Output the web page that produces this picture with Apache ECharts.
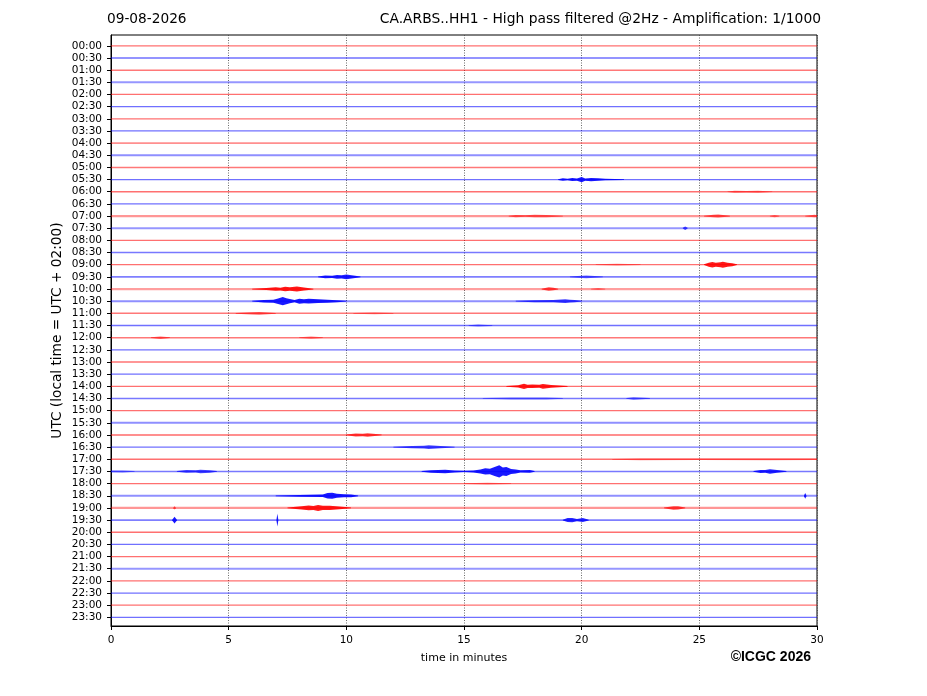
<!DOCTYPE html>
<html>
<head>
<meta charset="utf-8">
<script src="https://cdn.jsdelivr.net/npm/echarts@6/dist/echarts.min.js"></script>
<style>html,body{margin:0;padding:0;background:#fff}#c{width:927px;height:696px}</style>
</head>
<body>
<div id="c"></div>
<script>
// ---- data ----
const dateLabel = '09-08-2026';
const titleText = 'CA.ARBS..HH1 - High pass filtered @2Hz - Amplification: 1/1000';
const yAxisTitle = 'UTC (local time = UTC + 02:00)';
const xAxisTitle = 'time in minutes';
const creditText = '\u00A9ICGC 2026';

const rowLabels = ['00:00','00:30','01:00','01:30','02:00','02:30','03:00','03:30','04:00','04:30',
  '05:00','05:30','06:00','06:30','07:00','07:30','08:00','08:30','09:00','09:30',
  '10:00','10:30','11:00','11:30','12:00','12:30','13:00','13:30','14:00','14:30',
  '15:00','15:30','16:00','16:30','17:00','17:30','18:00','18:30','19:00','19:30',
  '20:00','20:30','21:00','21:30','22:00','22:30','23:00','23:30'];

// background noise level of each trace (0 = quiet, 1 = noisy)
const rowNoise = [0.2,0.2,0.3,0.7,0.2,0.2,0.2,0.2,0.6,0.6,
  0.3,0.2,0.2,0.2,0.7,0.7,0.2,0.3,0.2,0.4,
  0.8,0.6,0.3,0.2,0.3,0.2,0.7,0.2,0.2,0.3,
  0.2,0.6,0.6,0.2,0.2,0.3,0.2,0.6,0.7,0.4,
  0.2,0.2,0.2,0.7,0.2,0.2,0.2,0.2];

const xTickMinutes = [0, 5, 10, 15, 20, 25, 30];

// events: trace row and envelope [minute, half amplitude]
const eventRow = [11, 12, 14, 14, 14, 14, 15, 18, 18, 19, 19, 20, 20, 20, 21, 21,
  22, 22, 23, 24, 24, 28, 29, 29, 32, 33, 34, 35, 35, 35, 35, 36, 37, 37, 38, 38, 38, 39, 39, 39];
const eventEnv = [
  [[19.0,0],[19.2,0.9],[19.4,0.4],[19.6,1.1],[19.8,0.7],[20.0,2.2],[20.15,0.8],[20.4,1.2],[20.7,0.9],[21.0,0.4],[21.8,0]],
  [[26.2,0],[26.5,0.7],[27.0,0.4],[27.5,0.6],[28.1,0]],
  [[16.9,0],[17.2,0.7],[17.6,0.4],[18.0,0.9],[18.5,0.7],[19.2,0]],
  [[25.2,0],[25.6,0.9],[25.8,1.1],[26.3,0]],
  [[28.0,0],[28.2,0.7],[28.4,0]],
  [[29.5,0],[29.9,0.9],[30,0.5]],
  [[24.3,0],[24.4,1.4],[24.5,0]],
  [[20.6,0],[21.5,0.5],[22.5,0]],
  [[25.2,0],[25.4,1.6],[25.55,2.4],[25.7,1.7],[25.9,2.2],[26.0,2.6],[26.2,1.6],[26.4,1.2],[26.6,0]],
  [[8.8,0],[9.1,1.0],[9.4,0.8],[9.6,1.6],[9.8,1.2],[10.0,1.9],[10.3,1.1],[10.6,0]],
  [[19.5,0],[20.0,0.7],[20.2,0.9],[20.9,0]],
  [[6.0,0],[6.6,0.7],[7.0,1.4],[7.2,1.0],[7.4,1.8],[7.6,1.3],[7.9,2.2],[8.2,1.1],[8.6,0]],
  [[18.3,0],[18.6,1.4],[18.8,0.9],[19.0,0]],
  [[20.4,0],[20.7,0.6],[21.0,0]],
  [[6.0,0],[6.5,0.9],[6.9,1.1],[7.1,2.4],[7.3,3.8],[7.45,2.6],[7.6,1.8],[7.8,0.8],[8.0,2.2],[8.2,1.7],[8.4,2.0],[8.8,1.5],[9.2,1.1],[9.6,0.6],[10.0,0]],
  [[17.2,0],[18.0,0.7],[18.8,0.8],[19.3,1.5],[19.5,1.0],[19.7,0.8],[20.0,0]],
  [[5.3,0],[6.0,0.7],[6.3,1.0],[7.0,0]],
  [[10.3,0],[11.2,0.5],[12.0,0]],
  [[15.2,0],[15.6,0.7],[16.2,0]],
  [[1.7,0],[2.1,0.9],[2.5,0]],
  [[8.0,0],[8.5,0.7],[9.0,0]],
  [[16.8,0],[17.3,0.7],[17.55,2.2],[17.7,1.3],[17.9,1.4],[18.2,1.1],[18.35,2.0],[18.7,1.0],[19.4,0]],
  [[15.8,0],[17.0,0.6],[18.5,0.6],[19.2,0]],
  [[21.9,0],[22.2,0.9],[22.9,0]],
  [[10.0,0],[10.4,1.1],[10.7,0.9],[10.9,1.4],[11.5,0]],
  [[12.0,0],[12.8,0.7],[13.3,1.0],[13.5,1.4],[14.0,0.7],[14.6,0]],
  [[21.3,0],[22.5,0.5],[25,0.4],[28,0.5],[30,0.4]],
  [[0,0.5],[0.5,0.7],[1,0]],
  [[2.8,0],[3.2,1.0],[3.6,0.8],[3.8,1.4],[4.2,0.9],[4.5,0]],
  [[13.2,0],[13.6,0.9],[14.2,1.4],[14.6,0.7],[15.0,0.3],[15.4,0.7],[15.7,1.6],[15.9,2.8],[16.1,2.4],[16.3,4.2],[16.5,5.8],[16.65,3.6],[16.8,4.2],[17.0,2.2],[17.2,1.6],[17.4,0.8],[17.8,1.0],[18.0,0]],
  [[27.3,0],[27.6,1.2],[27.8,1.0],[28.0,1.9],[28.3,1.0],[28.7,0]],
  [[15.0,0],[16.0,0.5],[17.0,0]],
  [[7.0,0],[8.0,0.5],[9.0,0.9],[9.2,2.4],[9.4,2.6],[9.6,1.6],[9.9,1.1],[10.2,1.0],[10.5,0]],
  [[29.45,0],[29.5,2.5],[29.55,0]],
  [[2.65,0],[2.7,1.2],[2.75,0]],
  [[7.5,0],[8.1,1.2],[8.4,2.0],[8.6,1.6],[8.8,2.6],[9.0,1.8],[9.3,1.8],[9.7,1.0],[10.2,0]],
  [[23.5,0],[23.9,1.4],[24.1,1.2],[24.4,0]],
  [[2.6,0],[2.7,3],[2.8,0]],
  [[7.03,0],[7.07,6],[7.11,0]],
  [[19.2,0],[19.4,1.6],[19.6,1.8],[19.8,0.8],[20.05,1.6],[20.3,0]]
];

// ---- chart ----
const ROW_COLORS = ['#ff0000', '#0000ff'];
const AMP_SCALE = 1 / 12.16; // envelope units -> trace spacing
const FONT = 'DejaVu Sans';

const chart = echarts.init(document.getElementById('c'), null, {renderer: 'canvas'});

const baselineData = rowLabels.map((l, i) => [i, rowNoise[i]]);
const eventData = eventRow.map((r, i) => [i, r]);

chart.setOption({
  animation: false,
  backgroundColor: '#ffffff',
  grid: {left: 111, right: 110, top: 35, bottom: 70, show: true, borderColor: '#000', borderWidth: 1, backgroundColor: 'transparent'},
  xAxis: {
    type: 'value', min: 0, max: 30, interval: 5, position: 'bottom',
    axisLine: {show: true, onZero: false, lineStyle: {color: '#000', width: 1}},
    axisTick: {show: true, inside: false, length: 4, lineStyle: {color: '#000'}},
    axisLabel: {color: '#000', fontFamily: FONT, fontSize: 10.5, margin: 9},
    splitLine: {show: true, lineStyle: {color: '#444', type: [1, 1.5], width: 0.8}},
    name: xAxisTitle, nameLocation: 'middle', nameGap: 27, nameMoveOverlap: false,
    nameTextStyle: {color: '#000', fontFamily: FONT, fontSize: 11}
  },
  yAxis: {
    type: 'value', inverse: true, min: -0.89, max: 47.71,
    axisLine: {show: true, onZero: false, lineStyle: {color: '#000', width: 1}},
    axisTick: {show: true, length: 4, lineStyle: {color: '#000'}, customValues: rowLabels.map((l, i) => i)},
    axisLabel: {color: '#000', fontFamily: FONT, fontSize: 10.5, margin: 9,
      customValues: rowLabels.map((l, i) => i), formatter: v => rowLabels[Math.round(v)]},
    splitLine: {show: false},
    name: yAxisTitle, nameLocation: 'middle', nameGap: 47, nameRotate: 90, nameMoveOverlap: false,
    nameTextStyle: {color: '#000', fontFamily: FONT, fontSize: 13.7}
  },
  graphic: [
    {type: 'text', left: 107, top: 12, style: {text: dateLabel, font: '13.7px "DejaVu Sans"', fill: '#000'}},
    {type: 'text', right: 106, top: 12, style: {text: titleText, font: '13.85px "DejaVu Sans"', fill: '#000'}},
    {type: 'text', right: 116, top: 650, style: {text: creditText, font: 'bold 14px "Liberation Sans"', fill: '#000'}}
  ],
  series: [
    {
      type: 'custom', clip: true, silent: true,
      data: baselineData,
      encode: {x: -1, y: 0},
      renderItem: function (params, api) {
        const row = api.value(0), noise = api.value(1);
        const p0 = api.coord([0, row]), p1 = api.coord([30, row]);
        const h = 1 + 1.6 * noise;
        const col = ROW_COLORS[row % 2];
        return {type: 'rect', shape: {x: p0[0], y: p0[1] - h / 2, width: p1[0] - p0[0], height: h},
          style: {fill: col, opacity: 0.62 - 0.3 * noise}};
      }
    },
    {
      type: 'custom', clip: true, silent: true,
      data: eventData,
      encode: {x: -1, y: 1},
      renderItem: function (params, api) {
        const idx = api.value(0), row = api.value(1);
        const env = eventEnv[idx];
        const peak = Math.max.apply(null, env.map(p => p[1]));
        const upper = env.map(p => api.coord([p[0], row - p[1] * AMP_SCALE - 0.03]));
        const lower = env.slice().reverse().map(p => api.coord([p[0], row + p[1] * AMP_SCALE + 0.03]));
        return {type: 'polygon', shape: {points: upper.concat(lower)},
          style: {fill: ROW_COLORS[row % 2], opacity: Math.min(0.9, 0.3 + 0.3 * peak)}};
      }
    }
  ]
});
</script>
</body>
</html>
